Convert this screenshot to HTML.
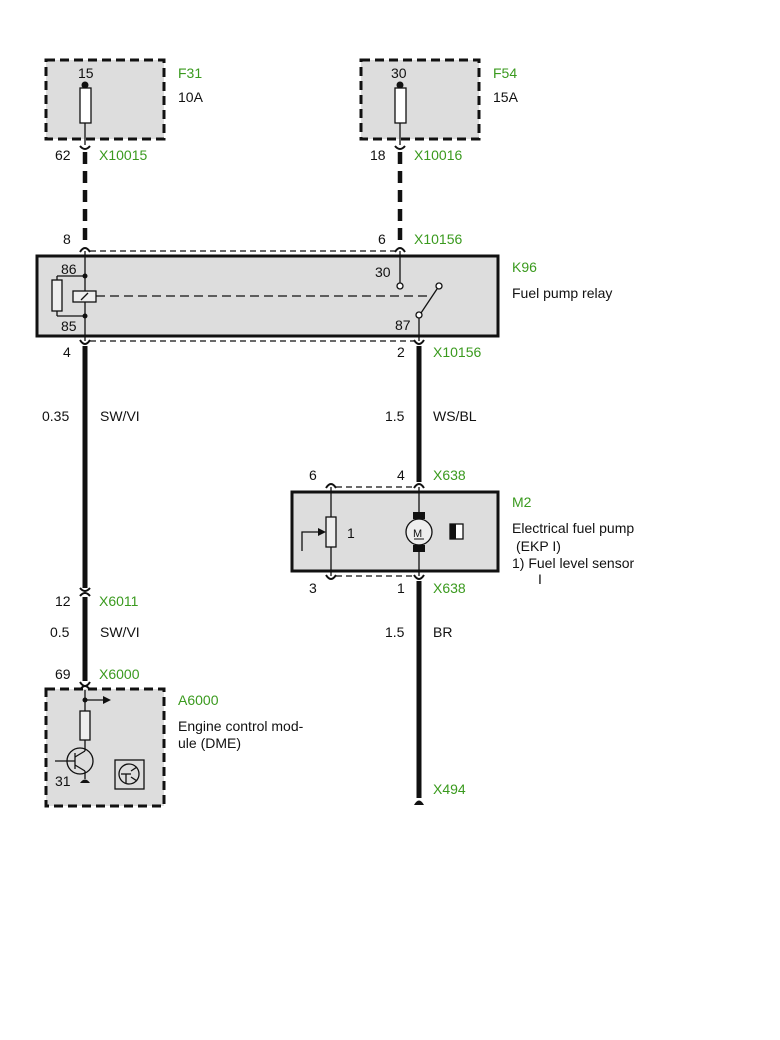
<!DOCTYPE html>
<html><head><meta charset="utf-8"><style>
html,body{margin:0;padding:0;background:#fff}
svg{display:block}
text{font-family:"Liberation Sans",sans-serif;font-size:14px;fill:#111}
.g{fill:#3a9a1e}
</style></head><body>
<svg width="780" height="1040" viewBox="0 0 780 1040">
<!-- F31 -->
<rect x="46" y="60" width="118" height="79" fill="#ddd" stroke="#111" stroke-width="3" stroke-dasharray="9,5"/>
<circle cx="85" cy="85" r="3.5" fill="#111"/>
<rect x="80" y="88" width="11" height="35" fill="#fff" stroke="#111" stroke-width="1.3"/>
<line x1="85" y1="85" x2="85" y2="88" stroke="#111" stroke-width="1.3"/>
<line x1="85" y1="123" x2="85" y2="145" stroke="#111" stroke-width="1.3"/>
<text x="78" y="78">15</text><text x="178" y="78" class="g">F31</text><text x="178" y="102">10A</text>
<!-- F54 -->
<rect x="361" y="60" width="118" height="79" fill="#ddd" stroke="#111" stroke-width="3" stroke-dasharray="9,5"/>
<circle cx="400" cy="85" r="3.5" fill="#111"/>
<rect x="395" y="88" width="11" height="35" fill="#fff" stroke="#111" stroke-width="1.3"/>
<line x1="400" y1="85" x2="400" y2="88" stroke="#111" stroke-width="1.3"/>
<line x1="400" y1="123" x2="400" y2="145" stroke="#111" stroke-width="1.3"/>
<text x="391" y="78">30</text><text x="493" y="78" class="g">F54</text><text x="493" y="102">15A</text>
<!-- connector forks top -->
<g fill="none" stroke="#111" stroke-width="2">
<path d="M80,146 Q85,152 90,146"/><path d="M395,146 Q400,152 405,146"/>
</g>
<g stroke="#111" stroke-width="4.5" stroke-dasharray="12,7">
<line x1="85" y1="152" x2="85" y2="246"/><line x1="400" y1="152" x2="400" y2="246"/>
</g>
<text x="55" y="160">62</text><text x="99" y="160" class="g">X10015</text>
<text x="370" y="160">18</text><text x="414" y="160" class="g">X10016</text>
<text x="63" y="244">8</text><text x="378" y="244">6</text><text x="414" y="244" class="g">X10156</text>
<!-- relay -->
<line x1="90" y1="251" x2="395" y2="251" stroke="#111" stroke-width="1.3" stroke-dasharray="6,4"/>
<line x1="90" y1="341" x2="414" y2="341" stroke="#111" stroke-width="1.3" stroke-dasharray="6,4"/>
<g fill="none" stroke="#111" stroke-width="2">
<path d="M80,252 Q85,244 90,252"/><path d="M395,252 Q400,244 405,252"/>
<path d="M80,340 Q85,348 90,340"/><path d="M414,340 Q419,348 424,340"/>
</g>
<rect x="37" y="256" width="461" height="80" fill="#ddd" stroke="#111" stroke-width="3"/>
<g stroke="#111" stroke-width="1.3" fill="none">
<line x1="85" y1="251" x2="85" y2="341"/>
<line x1="85" y1="276" x2="57" y2="276"/><line x1="57" y1="276" x2="57" y2="280"/>
<rect x="52" y="280" width="10" height="31" fill="#eee"/>
<line x1="57" y1="311" x2="57" y2="316"/><line x1="57" y1="316" x2="85" y2="316"/>
<rect x="73" y="291" width="23" height="11" fill="#eee"/><line x1="81" y1="300" x2="88" y2="293"/>
<line x1="96" y1="296" x2="430" y2="296" stroke-dasharray="9,5"/>
<line x1="400" y1="251" x2="400" y2="283"/><circle cx="400" cy="286" r="3" fill="#fff"/>
<circle cx="439" cy="286" r="3" fill="#fff"/>
<line x1="437" y1="289" x2="421" y2="313"/>
<circle cx="419" cy="315" r="3" fill="#fff"/><line x1="419" y1="318" x2="419" y2="341"/>
</g>
<circle cx="85" cy="276" r="2.5" fill="#111"/><circle cx="85" cy="316" r="2.5" fill="#111"/>
<text x="61" y="274">86</text><text x="61" y="331">85</text>
<text x="375" y="277">30</text><text x="395" y="330">87</text>
<text x="512" y="272" class="g">K96</text><text x="512" y="298">Fuel pump relay</text>
<text x="63" y="357">4</text><text x="397" y="357">2</text><text x="433" y="357" class="g">X10156</text>
<!-- wires -->
<g stroke="#111" stroke-width="5">
<line x1="85" y1="346" x2="85" y2="588"/>
<line x1="419" y1="346" x2="419" y2="482"/>
<line x1="85" y1="597" x2="85" y2="681"/>
<line x1="419" y1="581" x2="419" y2="798"/>
</g>
<text x="42" y="421">0.35</text><text x="100" y="421">SW/VI</text>
<text x="385" y="421">1.5</text><text x="433" y="421">WS/BL</text>
<!-- M2 -->
<line x1="336" y1="487" x2="414" y2="487" stroke="#111" stroke-width="1.3" stroke-dasharray="6,4"/>
<line x1="336" y1="576" x2="414" y2="576" stroke="#111" stroke-width="1.3" stroke-dasharray="6,4"/>
<g fill="none" stroke="#111" stroke-width="2">
<path d="M326,488 Q331,480 336,488"/><path d="M414,488 Q419,480 424,488"/>
<path d="M326,575 Q331,583 336,575"/><path d="M414,575 Q419,583 424,575"/>
</g>
<rect x="292" y="492" width="206" height="79" fill="#ddd" stroke="#111" stroke-width="3"/>
<g stroke="#111" stroke-width="1.3" fill="none">
<line x1="331" y1="487" x2="331" y2="517"/><rect x="326" y="517" width="10" height="30" fill="#eee"/>
<line x1="331" y1="547" x2="331" y2="576"/>
<path d="M302,551 L302,532 L320,532"/>
<line x1="419" y1="487" x2="419" y2="576"/>
<circle cx="419" cy="532" r="13" fill="#eee"/>
<rect x="450" y="524" width="13" height="15" fill="#fff"/>
</g>
<path d="M318,528 L326,532 L318,536Z" fill="#111"/>
<rect x="413" y="512" width="12" height="7" fill="#111"/><rect x="413" y="545" width="12" height="7" fill="#111"/>
<rect x="450" y="524" width="6" height="15" fill="#111"/>
<text x="413" y="537" style="font-size:11px">M</text><line x1="414" y1="539" x2="424" y2="539" stroke="#111"/>
<text x="347" y="538">1</text>
<text x="309" y="480">6</text><text x="397" y="480">4</text><text x="433" y="480" class="g">X638</text>
<text x="309" y="593">3</text><text x="397" y="593">1</text><text x="433" y="593" class="g">X638</text>
<text x="512" y="507" class="g">M2</text>
<text x="512" y="533">Electrical fuel pump</text>
<text x="516" y="551">(EKP I)</text>
<text x="512" y="568">1) Fuel level sensor</text>
<text x="538" y="584">I</text>
<text x="385" y="637">1.5</text><text x="433" y="637">BR</text>
<!-- X6011 -->
<g fill="none" stroke="#111" stroke-width="2">
<path d="M80,588 Q85,594 90,588"/><path d="M80,596 Q85,590 90,596"/>
<path d="M80,682 Q85,690 90,682"/><path d="M80,690 Q85,682 90,690"/>
</g>
<text x="55" y="606">12</text><text x="99" y="606" class="g">X6011</text>
<text x="50" y="637">0.5</text><text x="100" y="637">SW/VI</text>
<text x="55" y="679">69</text><text x="99" y="679" class="g">X6000</text>
<!-- A6000 -->
<rect x="46" y="689" width="118" height="117" fill="#ddd" stroke="#111" stroke-width="3" stroke-dasharray="9,5"/>
<g stroke="#111" stroke-width="1.3" fill="none">
<line x1="85" y1="690" x2="85" y2="711"/><line x1="85" y1="700" x2="103" y2="700"/>
<rect x="80" y="711" width="10" height="29" fill="#eee"/>
<line x1="85" y1="740" x2="85" y2="751"/>
<circle cx="80" cy="761" r="13"/>
<line x1="55" y1="761" x2="75" y2="761"/><line x1="75" y1="753" x2="75" y2="769"/>
<line x1="75" y1="757" x2="85" y2="751"/><line x1="75" y1="765" x2="85" y2="771"/>
<line x1="85" y1="771" x2="85" y2="779"/>
<rect x="115" y="760" width="29" height="29"/><circle cx="129" cy="774" r="10"/>
<line x1="121" y1="774" x2="131" y2="774"/><line x1="126" y1="774" x2="126" y2="783"/>
<line x1="131" y1="771" x2="137" y2="767"/><line x1="131" y1="777" x2="137" y2="781"/>
</g>
<circle cx="85" cy="700" r="2.5" fill="#111"/>
<path d="M103,696 L111,700 L103,704Z" fill="#111"/>
<path d="M80,783 Q85,776 90,783Z" fill="#111"/>
<path d="M414,805 Q419,796 424,805Z" fill="#111"/>
<text x="55" y="786">31</text>
<text x="178" y="705" class="g">A6000</text>
<text x="178" y="731">Engine control mod-</text>
<text x="178" y="748">ule (DME)</text>
<text x="433" y="794" class="g">X494</text>
</svg>
</body></html>
